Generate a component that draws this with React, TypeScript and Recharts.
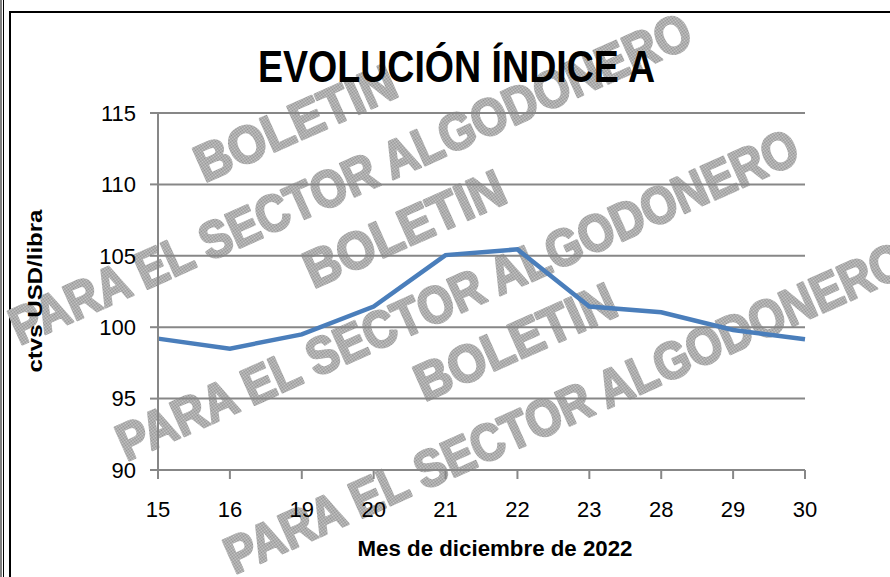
import { LineChart, Line, XAxis, YAxis, CartesianGrid } from 'recharts'

const dias = ['15', '16', '19', '20', '21', '22', '23', '28', '29', '30']
const indiceA = [99.2, 98.5, 99.5, 101.45, 105.05, 105.45, 101.45, 101.05, 99.8, 99.15]
const yTicks = [90, 95, 100, 105, 110, 115]

const W = 890
const H = 577
const GRIS = '#878787'
const FUENTE = '"Liberation Sans", Arial, sans-serif'

const data = dias.map((d, i) => ({ dia: d, valor: indiceA[i] }))

// marca de agua (decorativa)
const boletines = [
  [295, 122],
  [404, 228],
  [515, 341],
]
const lineasSector = [
  [350, 178],
  [457, 294],
  [565, 407],
]

function YLabel() {
  return (
    <text x={42} y={291} transform="rotate(-90, 42, 291)" textAnchor="middle"
      fontFamily={FUENTE} fontWeight="bold" fontSize={21} fill="#000"
      textLength={163} lengthAdjust="spacingAndGlyphs">
      ctvs USD/libra
    </text>
  )
}

function XLabel() {
  return (
    <text x={495} y={556} textAnchor="middle" fontFamily={FUENTE} fontWeight="bold"
      fontSize={22} fill="#000" textLength={275} lengthAdjust="spacingAndGlyphs">
      Mes de diciembre de 2022
    </text>
  )
}

function Fondo() {
  return (
    <svg width={W} height={H} style={{ position: 'absolute', left: 0, top: 0 }}>
      <defs>
        <pattern id="punteado" width="2" height="2" patternUnits="userSpaceOnUse">
          <rect width="2" height="2" fill="#cecece" />
          <rect width="1" height="1" fill="#8e8e8e" />
          <rect x="1" y="1" width="1" height="1" fill="#8e8e8e" />
        </pattern>
      </defs>
      {/* marco */}
      <line x1={1} y1={0} x2={1} y2={H} stroke="#000" strokeWidth={1} />
      <line x1={3.5} y1={0} x2={3.5} y2={H} stroke="#000" strokeWidth={1} />
      <line x1={10} y1={11} x2={10} y2={H} stroke="#000" strokeWidth={2} />
      <line x1={9} y1={12} x2={W} y2={12} stroke="#000" strokeWidth={2} />

      {/* marca de agua */}
      <g fontFamily={FUENTE} fontWeight="bold" fontSize={52} fill="url(#punteado)"
        stroke="url(#punteado)" strokeWidth={2.5} strokeLinejoin="round" textAnchor="middle">
        {boletines.map(([cx, cy], i) => (
          <text key={'b' + i} x={0} y={0} dy="0.36em" transform={`translate(${cx},${cy}) rotate(-24)`}
            textLength={215} lengthAdjust="spacingAndGlyphs">BOLETIN</text>
        ))}
        {lineasSector.map(([cx, cy], i) => (
          <text key={'l' + i} x={0} y={0} dy="0.36em" transform={`translate(${cx},${cy}) rotate(-24)`}
            textLength={740} lengthAdjust="spacingAndGlyphs">PARA EL SECTOR ALGODONERO</text>
        ))}
      </g>

      <text x={456.5} y={82} textAnchor="middle" fontFamily={FUENTE} fontWeight="bold"
        fontSize={45} fill="#000" textLength={397} lengthAdjust="spacingAndGlyphs">
        EVOLUCIÓN ÍNDICE A
      </text>
    </svg>
  )
}

export default function App() {
  return (
    <div style={{ position: 'absolute', left: 0, top: 0, width: W, height: H, background: '#fff' }}>
      <Fondo />
      <div style={{ position: 'absolute', left: 0, top: 0 }}>
        <LineChart width={W} height={H} data={data}
          margin={{ top: 113, right: 85, bottom: 0, left: 0 }}>
          <CartesianGrid vertical={false} stroke={GRIS} strokeWidth={2} />
          <XAxis dataKey="dia" height={107} interval={0} tickSize={9} tickMargin={22}
            axisLine={{ stroke: GRIS, strokeWidth: 2 }} tickLine={{ stroke: GRIS, strokeWidth: 2 }}
            tick={{ fill: '#000', fontSize: 22, fontFamily: FUENTE }}
            label={{ content: XLabel }} />
          <YAxis domain={[90, 115]} ticks={yTicks} width={158} interval={0} tickSize={8} tickMargin={14}
            axisLine={{ stroke: GRIS, strokeWidth: 2 }} tickLine={{ stroke: GRIS, strokeWidth: 2 }}
            tick={{ fill: '#000', fontSize: 22, fontFamily: FUENTE }}
            label={{ content: YLabel }} />
          <Line type="linear" dataKey="valor" stroke="#4A7EBB" strokeWidth={4.5} dot={false}
            activeDot={false} isAnimationActive={false} />
        </LineChart>
      </div>
    </div>
  )
}
